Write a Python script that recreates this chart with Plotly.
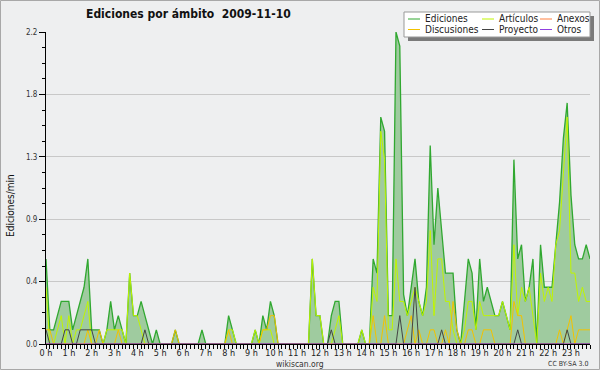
import plotly.graph_objects as go

# ---------------- data (10-minute slots, 0:00 .. 23:50) ----------------
slots = list(range(144))
hour_ticks = [0, 6, 12, 18, 24, 30, 36, 42, 48, 54, 60, 66,
              72, 78, 84, 90, 96, 102, 108, 114, 120, 126, 132, 138]
hour_labels = ["0 h", "1 h", "2 h", "3 h", "4 h", "5 h", "6 h", "7 h",
               "8 h", "9 h", "10 h", "11 h", "12 h", "13 h", "14 h", "15 h",
               "16 h", "17 h", "18 h", "19 h", "20 h", "21 h", "22 h", "23 h"]
y_tick_vals = [0, 0.44, 0.88, 1.32, 1.76, 2.2]
y_tick_text = ["0.0", "0.4", "0.9", "1.3", "1.8", "2.2"]

ediciones = [
    0.6, 0.1, 0.1, 0.2, 0.3, 0.3, 0.3, 0.1, 0.2, 0.3, 0.4, 0.6,
    0.1, 0.1, 0.1, 0.0, 0.1, 0.3, 0.1, 0.2, 0.1, 0.0, 0.5, 0.2,
    0.2, 0.3, 0.2, 0.1, 0.0, 0.1, 0.0, 0.0, 0.0, 0.0, 0.1, 0.0,
    0.0, 0.0, 0.0, 0.0, 0.0, 0.1, 0.0, 0.0, 0.0, 0.0, 0.0, 0.0,
    0.2, 0.1, 0.0, 0.0, 0.0, 0.0, 0.0, 0.1, 0.0, 0.2, 0.1, 0.3,
    0.2, 0.0, 0.0, 0.0, 0.0, 0.0, 0.0, 0.0, 0.0, 0.0, 0.6, 0.2,
    0.2, 0.0, 0.0, 0.2, 0.3, 0.3, 0.0, 0.0, 0.0, 0.0, 0.0, 0.1,
    0.0, 0.0, 0.6, 0.5, 1.6, 1.5, 0.2, 0.2, 2.2, 2.1, 0.35, 0.2,
    0.4, 0.6, 0.3, 0.2, 0.4, 1.4, 0.7, 1.1, 0.8, 0.5, 0.5, 0.5,
    0.1, 0.0, 0.3, 0.6, 0.5, 0.1, 0.6, 0.3, 0.4, 0.3, 0.2, 0.2,
    0.3, 0.2, 0.1, 1.3, 0.6, 0.7, 0.3, 0.4, 0.6, 0.0, 0.7, 0.4,
    0.4, 0.4, 0.7, 1.0, 1.45, 1.7, 1.05, 0.7, 0.6, 0.6, 0.7, 0.6,
]
articulos = [
    0.4, 0.0, 0.0, 0.1, 0.2, 0.0, 0.2, 0.0, 0.1, 0.1, 0.2, 0.3,
    0.0, 0.0, 0.0, 0.0, 0.1, 0.1, 0.1, 0.1, 0.1, 0.0, 0.5, 0.2,
    0.2, 0.1, 0.0, 0.0, 0.0, 0.0, 0.0, 0.0, 0.0, 0.0, 0.0, 0.0,
    0.0, 0.0, 0.0, 0.0, 0.0, 0.0, 0.0, 0.0, 0.0, 0.0, 0.0, 0.0,
    0.1, 0.1, 0.0, 0.0, 0.0, 0.0, 0.0, 0.1, 0.0, 0.1, 0.1, 0.1,
    0.0, 0.0, 0.0, 0.0, 0.0, 0.0, 0.0, 0.0, 0.0, 0.0, 0.6, 0.2,
    0.2, 0.0, 0.0, 0.0, 0.1, 0.2, 0.0, 0.0, 0.0, 0.0, 0.0, 0.1,
    0.0, 0.0, 0.4, 0.3, 1.5, 1.3, 0.1, 0.1, 0.6, 0.3, 0.3, 0.2,
    0.3, 0.4, 0.3, 0.2, 0.3, 0.8, 0.2, 0.6, 0.6, 0.3, 0.3, 0.1,
    0.0, 0.0, 0.1, 0.3, 0.3, 0.1, 0.3, 0.2, 0.2, 0.2, 0.2, 0.2,
    0.3, 0.2, 0.1, 0.7, 0.2, 0.4, 0.3, 0.4, 0.2, 0.0, 0.5, 0.3,
    0.4, 0.3, 0.7, 0.8, 1.2, 1.6, 0.5, 0.5, 0.3, 0.4, 0.3, 0.3,
]
discusiones = [
    0.1, 0.1, 0.0, 0.0, 0.0, 0.0, 0.0, 0.0, 0.0, 0.0, 0.0, 0.1,
    0.0, 0.0, 0.1, 0.0, 0.0, 0.0, 0.0, 0.1, 0.0, 0.0, 0.0, 0.0,
    0.0, 0.0, 0.0, 0.0, 0.0, 0.0, 0.0, 0.0, 0.0, 0.0, 0.1, 0.0,
    0.0, 0.0, 0.0, 0.0, 0.0, 0.0, 0.0, 0.0, 0.0, 0.0, 0.0, 0.0,
    0.1, 0.0, 0.0, 0.0, 0.0, 0.0, 0.0, 0.0, 0.0, 0.1, 0.1, 0.2,
    0.2, 0.0, 0.0, 0.0, 0.0, 0.0, 0.0, 0.0, 0.0, 0.0, 0.0, 0.0,
    0.0, 0.0, 0.0, 0.0, 0.0, 0.0, 0.0, 0.0, 0.0, 0.0, 0.0, 0.0,
    0.0, 0.0, 0.2, 0.0, 0.0, 0.2, 0.0, 0.0, 0.0, 0.0, 0.0, 0.1,
    0.2, 0.0, 0.1, 0.0, 0.0, 0.1, 0.1, 0.0, 0.0, 0.1, 0.0, 0.3,
    0.1, 0.0, 0.0, 0.1, 0.1, 0.0, 0.0, 0.1, 0.1, 0.1, 0.0, 0.0,
    0.0, 0.0, 0.0, 0.3, 0.2, 0.2, 0.0, 0.0, 0.0, 0.0, 0.0, 0.0,
    0.0, 0.0, 0.0, 0.1, 0.0, 0.1, 0.2, 0.0, 0.1, 0.1, 0.1, 0.1,
]
proyecto = [
    0.1, 0.0, 0.0, 0.0, 0.0, 0.1, 0.1, 0.0, 0.0, 0.1, 0.1, 0.1,
    0.1, 0.0, 0.0, 0.0, 0.0, 0.0, 0.0, 0.0, 0.0, 0.0, 0.0, 0.0,
    0.0, 0.0, 0.1, 0.0, 0.0, 0.0, 0.0, 0.0, 0.0, 0.0, 0.0, 0.0,
    0.0, 0.0, 0.0, 0.0, 0.0, 0.0, 0.0, 0.0, 0.0, 0.0, 0.0, 0.0,
    0.0, 0.0, 0.0, 0.0, 0.0, 0.0, 0.0, 0.0, 0.0, 0.0, 0.0, 0.0,
    0.0, 0.0, 0.0, 0.0, 0.0, 0.0, 0.0, 0.0, 0.0, 0.0, 0.0, 0.0,
    0.0, 0.0, 0.0, 0.1, 0.0, 0.0, 0.0, 0.0, 0.0, 0.0, 0.0, 0.0,
    0.0, 0.0, 0.0, 0.0, 0.0, 0.0, 0.0, 0.0, 0.0, 0.2, 0.0, 0.0,
    0.0, 0.4, 0.0, 0.0, 0.0, 0.0, 0.0, 0.0, 0.1, 0.0, 0.0, 0.0,
    0.0, 0.0, 0.0, 0.0, 0.0, 0.0, 0.0, 0.0, 0.0, 0.0, 0.0, 0.0,
    0.0, 0.0, 0.0, 0.0, 0.1, 0.0, 0.0, 0.0, 0.0, 0.0, 0.0, 0.0,
    0.0, 0.0, 0.0, 0.0, 0.0, 0.1, 0.0, 0.0, 0.0, 0.0, 0.0, 0.0,
]
anexos = [
    0.0, 0.0, 0.0, 0.0, 0.0, 0.0, 0.0, 0.0, 0.0, 0.0, 0.0, 0.0,
    0.0, 0.0, 0.0, 0.0, 0.0, 0.0, 0.0, 0.0, 0.0, 0.0, 0.0, 0.0,
    0.0, 0.0, 0.0, 0.0, 0.0, 0.0, 0.0, 0.0, 0.0, 0.0, 0.0, 0.0,
    0.0, 0.0, 0.0, 0.0, 0.0, 0.0, 0.0, 0.0, 0.0, 0.0, 0.0, 0.0,
    0.0, 0.0, 0.0, 0.0, 0.0, 0.0, 0.0, 0.0, 0.0, 0.0, 0.0, 0.0,
    0.0, 0.0, 0.0, 0.0, 0.0, 0.0, 0.0, 0.0, 0.0, 0.0, 0.0, 0.0,
    0.0, 0.0, 0.0, 0.0, 0.0, 0.0, 0.0, 0.0, 0.0, 0.0, 0.0, 0.0,
    0.0, 0.0, 0.0, 0.0, 0.0, 0.0, 0.0, 0.0, 0.0, 0.0, 0.0, 0.0,
    0.0, 0.0, 0.0, 0.0, 0.0, 0.0, 0.0, 0.0, 0.0, 0.0, 0.0, 0.0,
    0.0, 0.0, 0.0, 0.0, 0.0, 0.0, 0.0, 0.0, 0.0, 0.0, 0.0, 0.0,
    0.0, 0.0, 0.0, 0.0, 0.0, 0.0, 0.0, 0.0, 0.0, 0.0, 0.0, 0.0,
    0.0, 0.0, 0.0, 0.0, 0.0, 0.0, 0.0, 0.0, 0.0, 0.0, 0.0, 0.0,
]
otros = list(anexos)

series_names = ["Ediciones", "Artículos", "Anexos", "Discusiones", "Proyecto", "Otros"]
series_colors = ["#30a830", "#c0f500", "#ff8040", "#f2c200", "#444444", "#9040e0"]

# ---------------- layout constants ----------------
W, H = 600, 370
ML, MR, MT, MB = 46, 10, 32, 26
PW, PH = W - ML - MR, H - MT - MB
FONT = "DejaVu Sans Condensed, DejaVu Sans, sans-serif"
BG = "#eeeff0"


def px(x):
    return (x - ML) / PW


def py(y):
    return (H - MB - y) / PH


fig = go.Figure()
fig.add_trace(go.Scatter(x=slots, y=ediciones, mode="lines", name="Ediciones",
                         line=dict(color=series_colors[0], width=1.3),
                         fill="tozeroy", fillcolor="#9fcb9f"))
order = [(articulos, 1), (anexos, 2), (discusiones, 3), (proyecto, 4), (otros, 5)]
for vals, k in order:
    fig.add_trace(go.Scatter(x=slots, y=vals, mode="lines", name=series_names[k],
                             line=dict(color=series_colors[k], width=1)))

shapes = []
annotations = []

# outer frame
shapes.append(dict(type="rect", xref="paper", yref="paper",
                   x0=px(0.5), x1=px(599.5), y0=py(369.5), y1=py(0.5),
                   line=dict(color="#a8a8a8", width=1), layer="below"))

# legend box with shadow
LX0, LX1, LY0, LY1 = 404, 590, 12, 37
shapes.append(dict(type="rect", xref="paper", yref="paper",
                   x0=px(LX0 + 4), x1=px(LX1 + 4), y0=py(LY1 + 4), y1=py(LY0 + 4),
                   fillcolor="#7a7a7a", line=dict(width=0), layer="above"))
shapes.append(dict(type="rect", xref="paper", yref="paper",
                   x0=px(LX0), x1=px(LX1), y0=py(LY1), y1=py(LY0),
                   fillcolor="#ffffff", line=dict(color="#999999", width=1), layer="above"))
col_x = [408, 482, 540]
row_y = [19, 29.5]
legend_pos = [(0, 0), (1, 0), (2, 0), (0, 1), (1, 1), (2, 1)]
for k, (c, r) in enumerate(legend_pos):
    shapes.append(dict(type="line", xref="paper", yref="paper",
                       x0=px(col_x[c]), x1=px(col_x[c] + 12), y0=py(row_y[r]), y1=py(row_y[r]),
                       line=dict(color=series_colors[k], width=1), layer="above"))
    annotations.append(dict(xref="paper", yref="paper", x=px(col_x[c] + 15), y=py(row_y[r]),
                            xanchor="left", yanchor="middle", showarrow=False,
                            text=series_names[k], font=dict(family=FONT, size=10, color="#222")))

# title and other texts
annotations.append(dict(xref="paper", yref="paper", x=px(188), y=py(14),
                        xanchor="center", yanchor="middle", showarrow=False,
                        text="<b>Ediciones por ámbito\u00a0\u00a02009-11-10</b>",
                        font=dict(family=FONT, size=12, color="#111")))
annotations.append(dict(xref="paper", yref="paper", x=px(10), y=py(206),
                        xanchor="center", yanchor="middle", showarrow=False, textangle=-90,
                        text="Ediciones/min", font=dict(family=FONT, size=10, color="#111")))
annotations.append(dict(xref="paper", yref="paper", x=px(300), y=py(363.5),
                        xanchor="center", yanchor="middle", showarrow=False,
                        text="wikiscan.org", font=dict(family=FONT, size=8.5, color="#333")))
annotations.append(dict(xref="paper", yref="paper", x=px(590), y=py(363.5),
                        xanchor="right", yanchor="middle", showarrow=False,
                        text="CC BY-SA 3.0", font=dict(family=FONT, size=7, color="#333")))

fig.update_layout(
    width=W, height=H,
    margin=dict(l=ML, r=MR, t=MT, b=MB, pad=0),
    paper_bgcolor=BG, plot_bgcolor=BG,
    showlegend=False,
    shapes=shapes, annotations=annotations,
    font=dict(family=FONT, size=9, color="#333"),
)
fig.update_xaxes(
    range=[0, 143], showgrid=False, zeroline=False,
    showline=True, linecolor="black", linewidth=1,
    tickmode="array", tickvals=hour_ticks, ticktext=hour_labels,
    ticks="outside", ticklen=4, tickcolor="black", tickwidth=1,
    ticklabelstandoff=-4,
    tickfont=dict(family=FONT, size=9, color="#222"),
    minor=dict(tickmode="linear", tick0=0, dtick=1, ticks="outside", ticklen=4,
               tickcolor="black", tickwidth=1, showgrid=False),
)
fig.update_yaxes(
    range=[0, 2.2], showgrid=True, gridcolor="#c8c8c8", gridwidth=1, zeroline=False,
    showline=True, linecolor="black", linewidth=1,
    tickmode="array", tickvals=y_tick_vals, ticktext=y_tick_text,
    ticks="outside", ticklen=6, tickcolor="black", tickwidth=1,
    tickfont=dict(family=FONT, size=8, color="#333"),
    minor=dict(tickmode="linear", tick0=0, dtick=0.11, ticks="outside", ticklen=3,
               tickcolor="black", tickwidth=1, showgrid=False),
)

fig.write_html("out.html", config={"displayModeBar": False},
               post_script="document.body.style.margin='0';document.body.style.overflow='hidden';")
